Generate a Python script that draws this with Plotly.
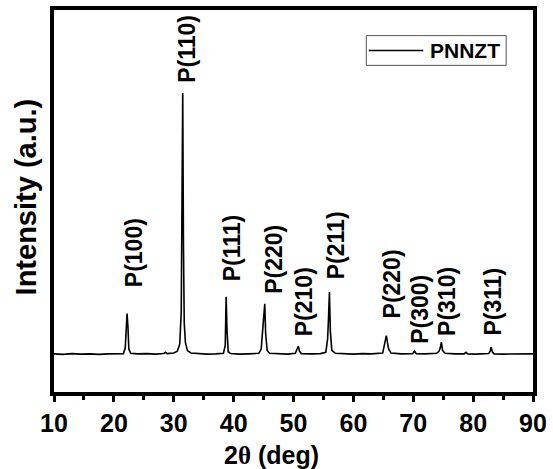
import plotly.graph_objects as go

# XRD pattern of PNNZT: 2-theta (deg) and intensity (a.u.), baseline at 0
two_theta = [10, 11.5, 13, 14.5, 16, 17.5, 19, 20.5, 21.6, 21.9, 22.05, 22.2, 22.35, 22.5, 22.8,
             24, 25.5, 27, 28.3, 28.6, 28.9, 30.0, 30.6, 31.0, 31.25, 31.4, 31.5, 31.62, 31.75,
             31.95, 32.3, 32.9, 34, 35.5, 37, 38.3, 38.6, 38.75, 38.9, 39.1, 39.5, 41, 42.5,
             44.2, 44.6, 44.85, 45.0, 45.2, 45.35, 45.6, 46, 47.5, 49, 50.3, 50.6, 50.8, 51.0,
             51.3, 53, 54.5, 55.4, 55.7, 55.85, 56.0, 56.15, 56.4, 57, 58.5, 60, 61.5, 63, 64.9,
             65.25, 65.5, 65.7, 65.9, 66.3, 68, 69.9, 70.2, 70.5, 72, 73.9, 74.3, 74.5, 74.7,
             74.9, 75.3, 77, 78.5, 78.8, 79.1, 80.5, 82.6, 82.85, 83.0, 83.2, 83.5, 85, 86.5,
             88, 90]
intensity = [2, 0, 3, 1, 2, 0, 2, 1, 3, 25, 110, 156, 105, 20, 4,
             2, 3, 1, 3, 8, 3, 5, 12, 40, 160, 620, 1000, 420, 120,
             45, 14, 5, 3, 1, 2, 4, 35, 220, 90, 10, 3, 1, 2,
             4, 20, 80, 140, 194, 80, 15, 4, 2, 1, 4, 22, 31, 12,
             3, 2, 3, 8, 60, 140, 239, 90, 15, 4, 2, 1, 3, 2, 5,
             40, 72, 45, 20, 5, 2, 3, 13, 3, 2, 4, 12, 24, 47,
             15, 4, 2, 2, 8, 2, 1, 3, 12, 28, 10, 2, 1, 2,
             1, 2]

# Reflection labels: text, x position (deg) and bottom of label (a.u.)
peak_labels = ["P(100)", "P(110)", "P(111)", "P(220)", "P(210)",
               "P(211)", "P(220)", "P(300)", "P(310)", "P(311)"]
label_x = [23.3, 32.3, 39.7, 46.6, 51.8, 57.1, 66.5, 71.1, 75.6, 83.3]
label_y = [250, 1030, 273, 223, 61, 280, 129, 34, 64, 64]

x_ticks = [10, 20, 30, 40, 50, 60, 70, 80, 90]
series_name = "PNNZT"

FONT = "Liberation Sans"

fig = go.Figure()
fig.add_trace(go.Scatter(x=two_theta, y=intensity, mode="lines", name=series_name,
                         line=dict(color="black", width=1.6), showlegend=False))

for txt, lx, ly in zip(peak_labels, label_x, label_y):
    fig.add_annotation(x=lx, y=ly, text=txt, showarrow=False, textangle=-90,
                       xanchor="center", yanchor="bottom",
                       font=dict(family=FONT, size=23, color="black", weight="bold"))

# Legend box drawn in paper coordinates
fig.add_shape(type="rect", xref="paper", yref="paper", x0=0.652, x1=0.944, y0=0.855, y1=0.933,
              line=dict(color="#555555", width=1), fillcolor="white")
fig.add_shape(type="line", xref="paper", yref="paper", x0=0.657, x1=0.771, y0=0.894, y1=0.894,
              line=dict(color="black", width=1.6))
fig.add_annotation(xref="paper", yref="paper", x=0.78, y=0.894, text=series_name, showarrow=False,
                   xanchor="left", yanchor="middle",
                   font=dict(family=FONT, size=21, color="black", weight="bold"))

# Axis titles
fig.add_annotation(xref="paper", yref="paper", x=0.455, y=-0.165,
                   text="2<span style='font-family:Liberation Serif'>θ</span> (deg)",
                   showarrow=False, xanchor="center", yanchor="middle",
                   font=dict(family=FONT, size=25, color="black", weight="bold"))
fig.add_annotation(xref="paper", yref="paper", x=-0.058, y=0.51, text="Intensity (a.u.)",
                   showarrow=False, textangle=-90, xanchor="center", yanchor="middle",
                   font=dict(family=FONT, size=29, color="black", weight="bold"))

fig.update_xaxes(range=[10, 90], tickvals=x_ticks, ticks="outside", ticklen=6, tickwidth=3,
                 tickcolor="black", showline=True, linewidth=4, linecolor="black", mirror=True,
                 showgrid=False, zeroline=False,
                 minor=dict(dtick=5, tick0=0, ticks="outside", ticklen=4, tickwidth=3,
                            tickcolor="black", showgrid=False),
                 tickfont=dict(family=FONT, size=25, color="black", weight="bold"))
fig.update_yaxes(range=[-144, 1318], showticklabels=False, ticks="", showline=True, linewidth=4,
                 linecolor="black", mirror=True, showgrid=False, zeroline=False)

fig.update_layout(width=553, height=469, margin=dict(l=54, r=18, t=6, b=77),
                  plot_bgcolor="white", paper_bgcolor="white")

fig.write_html("out.html")
